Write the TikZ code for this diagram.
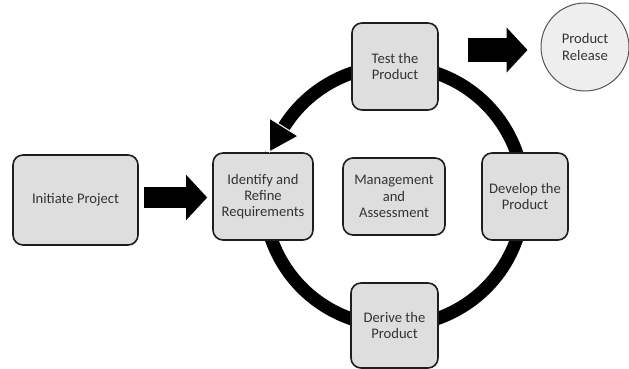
\documentclass[tikz,border=0pt]{standalone}
\usepackage{fontspec}
\setmainfont{Carlito}
\usetikzlibrary{arrows.meta,calc}
\definecolor{boxfill}{HTML}{DEDEDE}
\definecolor{boxline}{HTML}{1E1E1E}
\definecolor{txt}{HTML}{333333}
\definecolor{circfill}{HTML}{EEEEEE}
\definecolor{circline}{HTML}{555555}
\tikzset{
  stagebox/.style={draw=boxline, line width=1.6pt, fill=boxfill, rounded corners=10pt,
    inner sep=0pt, align=center, text=txt, font=\fontsize{14.6}{16.3}\selectfont},
  releasenode/.style={circle, draw=circline, line width=1pt, fill=circfill, inner sep=0pt,
    minimum size=88pt, align=center, text=txt, font=\fontsize{14.6}{16.3}\selectfont},
  ringline/.style={line width=13pt, black},
  blockarrow/.style={line width=#1, black, -{Triangle[length=21pt, width=44pt]}},
}
\begin{document}
\begin{tikzpicture}[x=1pt,y=1pt]
\useasboundingbox (0,0) rectangle (629,369);
\coordinate (C) at (394,173);
% ring
\draw[ringline] (C) ++(161:130) arc[start angle=161, end angle=508, radius=130];
% nodes
\node[stagebox, minimum width=125pt, minimum height=90pt] (init) at (75.5,169) {Initiate Project};
\node[stagebox, minimum width=100pt, minimum height=87pt] (ident) at (263,172.5) {Identify and\\Refine\\Requirements};
\node[stagebox, minimum width=86pt, minimum height=87pt] (test) at (395,302.5) {Test the\\Product};
\node[stagebox, minimum width=102pt, minimum height=77pt] (mgmt) at (394,172.5) {Management\\and\\Assessment};
\node[stagebox, minimum width=86pt, minimum height=87pt] (dev) at (525,172.5) {Develop the\\Product};
\node[stagebox, minimum width=87pt, minimum height=85pt] (derive) at (394.5,43.5) {Derive the\\Product};
\node[releasenode] (release) at (585,322) {Product\\Release};
% arrowhead of the ring (test -> ident)
\coordinate (tip) at ($(C)+(160.5:132)$);
\filldraw[black, draw=white, line width=1pt, line join=miter]
  ($(C)+(148:147)$) -- ($(C)+(148:113)$) -- (tip) -- cycle;
% block arrows
\draw[blockarrow=21pt] ([xshift=5pt,yshift=2.5pt]init.east) -- ([xshift=-5pt,yshift=2.5pt]init.east -| ident.west);
\draw[blockarrow=24pt] ([xshift=29pt,yshift=-3pt]test.east |- release.center) -- ([xshift=-13pt,yshift=-3pt]release.west);
\end{tikzpicture}
\end{document}
